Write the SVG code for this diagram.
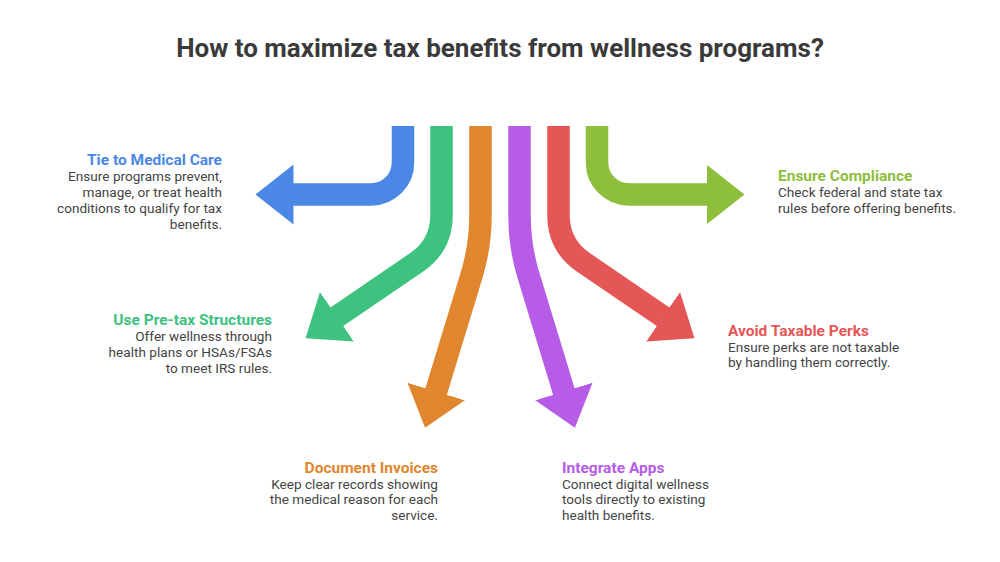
<svg xmlns="http://www.w3.org/2000/svg" width="1000" height="562" viewBox="0 0 1000 562">
<style>
.title{font-family:Roboto,"Liberation Sans",sans-serif;font-weight:700;font-size:26px;fill:#3a3a3a}
.h{font-family:Roboto,"Liberation Sans",sans-serif;font-weight:700;font-size:15.5px}
.b{font-family:Roboto,"Liberation Sans",sans-serif;font-size:13.6px;fill:#444}
.r{text-anchor:end}
.shaft{fill:none;stroke-width:22.5;stroke-linecap:butt}
</style>
<defs>
<marker id="hBlue" markerUnits="userSpaceOnUse" viewBox="0 -31 40 62" refX="0.5" refY="0" markerWidth="40" markerHeight="62" orient="auto"><path d="M0,-30 L38,0 L0,30 Z" fill="#4B88E6"/></marker>
<marker id="hGreen" markerUnits="userSpaceOnUse" viewBox="0 -31 40 62" refX="0.5" refY="0" markerWidth="40" markerHeight="62" orient="auto"><path d="M0,-30 L38,0 L0,30 Z" fill="#3EC27F"/></marker>
<marker id="hOrange" markerUnits="userSpaceOnUse" viewBox="0 -31 40 62" refX="0.5" refY="0" markerWidth="40" markerHeight="62" orient="auto"><path d="M0,-30 L38,0 L0,30 Z" fill="#E0862E"/></marker>
<marker id="hPurple" markerUnits="userSpaceOnUse" viewBox="0 -31 40 62" refX="0.5" refY="0" markerWidth="40" markerHeight="62" orient="auto"><path d="M0,-30 L38,0 L0,30 Z" fill="#B65CE6"/></marker>
<marker id="hRed" markerUnits="userSpaceOnUse" viewBox="0 -31 40 62" refX="0.5" refY="0" markerWidth="40" markerHeight="62" orient="auto"><path d="M0,-30 L38,0 L0,30 Z" fill="#E55757"/></marker>
<marker id="hLime" markerUnits="userSpaceOnUse" viewBox="0 -31 40 62" refX="0.5" refY="0" markerWidth="40" markerHeight="62" orient="auto"><path d="M0,-30 L38,0 L0,30 Z" fill="#8DBE3C"/></marker>
</defs>
<rect width="1000" height="562" fill="#fff"/>
<text class="title" x="500" y="57" text-anchor="middle">How to maximize tax benefits from wellness programs?</text>

<g id="connectors">
<path class="shaft" stroke="#4B88E6" marker-end="url(#hBlue)" d="M403,126 L403,162 A32,32 0 0 1 371,194.5 L293,194.5"/>
<path class="shaft" stroke="#3EC27F" marker-end="url(#hGreen)" d="M441.5,126 L441.5,215 Q441.5,245.5 416.6,262.3 L336.5,317"/>
<path class="shaft" stroke="#E0862E" marker-end="url(#hOrange)" d="M480.5,126 L480.5,215 Q480.5,245.7 471.8,274.4 L436,392"/>
<path class="shaft" stroke="#B65CE6" marker-end="url(#hPurple)" d="M519.5,126 L519.5,215 Q519.5,245.7 528.2,274.4 L564,392"/>
<path class="shaft" stroke="#E55757" marker-end="url(#hRed)" d="M558.5,126 L558.5,215 Q558.5,245.5 583.4,262.3 L663.5,317"/>
<path class="shaft" stroke="#8DBE3C" marker-end="url(#hLime)" d="M597,126 L597,162 A32,32 0 0 0 629,194.5 L707,194.5"/>
</g>

<g id="node-medical">
<text class="h r" x="222" y="165" fill="#4B88E6">Tie to Medical Care</text>
<text class="b r" x="222" y="181">Ensure programs prevent,</text>
<text class="b r" x="222" y="197">manage, or treat health</text>
<text class="b r" x="222" y="213">conditions to qualify for tax</text>
<text class="b r" x="222" y="228.5">benefits.</text>
</g>
<g id="node-pretax">
<text class="h r" x="272" y="325" fill="#3EC27F">Use Pre-tax Structures</text>
<text class="b r" x="272" y="341">Offer wellness through</text>
<text class="b r" x="272" y="357">health plans or HSAs/FSAs</text>
<text class="b r" x="272" y="372.5">to meet IRS rules.</text>
</g>
<g id="node-invoices">
<text class="h r" x="438" y="473" fill="#E0862E">Document Invoices</text>
<text class="b r" x="438" y="488.5">Keep clear records showing</text>
<text class="b r" x="438" y="504">the medical reason for each</text>
<text class="b r" x="438" y="519.5">service.</text>
</g>
<g id="node-apps">
<text class="h" x="562" y="473" fill="#B65CE6">Integrate Apps</text>
<text class="b" x="562" y="488.5">Connect digital wellness</text>
<text class="b" x="562" y="504">tools directly to existing</text>
<text class="b" x="562" y="519.5">health benefits.</text>
</g>
<g id="node-perks">
<text class="h" x="728" y="336" fill="#E55757">Avoid Taxable Perks</text>
<text class="b" x="728" y="351.5">Ensure perks are not taxable</text>
<text class="b" x="728" y="367">by handling them correctly.</text>
</g>
<g id="node-compliance">
<text class="h" x="778" y="181" fill="#8DBE3C">Ensure Compliance</text>
<text class="b" x="778" y="197">Check federal and state tax</text>
<text class="b" x="778" y="212.5">rules before offering benefits.</text>
</g>
</svg>
